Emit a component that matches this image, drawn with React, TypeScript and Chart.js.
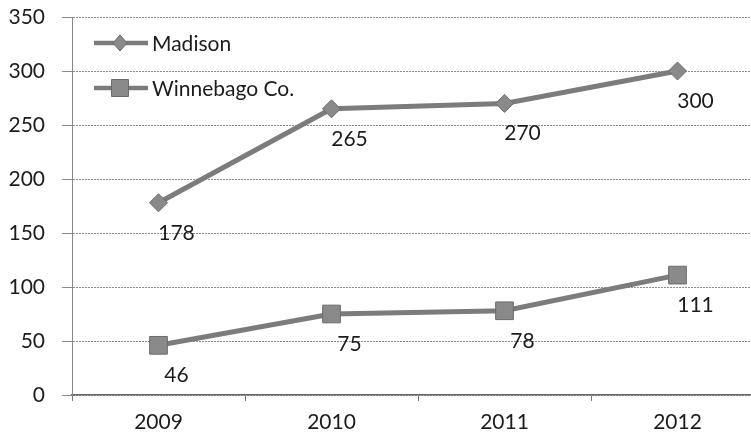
import React, { useEffect, useRef } from "react";
import { Chart, registerables } from "chart.js";

Chart.register(...registerables);

const categories = ["2009", "2010", "2011", "2012"];
const madison = [178, 265, 270, 300];
const winnebago = [46, 75, 78, 111];
const seriesNames = ["Madison", "Winnebago Co."];
const yTicks = { min: 0, max: 350, step: 50 };

const FONT = "Lato, 'Open Sans', sans-serif";
const TEXT = "#1c1c1c";
const LINE = "#7c7c7c";
const MARK_FILL = "#8a8a8a";
const MARK_BORDER = "#6a6a6a";

const labelPlugin = {
  id: "valueLabels",
  afterDatasetsDraw(chart: any) {
    const ctx = chart.ctx;
    ctx.save();
    ctx.font = `21px ${FONT}`;
    ctx.fillStyle = TEXT;
    ctx.textAlign = "center";
    ctx.textBaseline = "middle";
    chart.data.datasets.forEach((ds: any, di: number) => {
      const meta = chart.getDatasetMeta(di);
      meta.data.forEach((pt: any, i: number) => {
        ctx.fillText(String(ds.data[i]), pt.x + 18, pt.y + 30);
      });
    });
    ctx.restore();
  },
};

const legendPlugin = {
  id: "insideLegend",
  afterDraw(chart: any) {
    const ctx = chart.ctx;
    const { left, top } = chart.chartArea;
    ctx.save();
    chart.data.datasets.forEach((ds: any, di: number) => {
      const y = top + 26 + di * 45;
      const x0 = left + 22;
      const x1 = left + 76;
      const cx = left + 48;
      ctx.strokeStyle = LINE;
      ctx.lineWidth = 4.5;
      ctx.beginPath();
      ctx.moveTo(x0, y);
      ctx.lineTo(x1, y);
      ctx.stroke();
      ctx.fillStyle = MARK_FILL;
      ctx.strokeStyle = MARK_BORDER;
      ctx.lineWidth = 1;
      ctx.beginPath();
      if (ds.pointStyle === "rectRot") {
        ctx.moveTo(cx, y - 8);
        ctx.lineTo(cx + 7, y);
        ctx.lineTo(cx, y + 8);
        ctx.lineTo(cx - 7, y);
        ctx.closePath();
      } else {
        ctx.rect(cx - 8.5, y - 8.5, 17, 17);
      }
      ctx.fill();
      ctx.stroke();
      ctx.font = `21px ${FONT}`;
      ctx.fillStyle = TEXT;
      ctx.textAlign = "left";
      ctx.textBaseline = "middle";
      ctx.fillText(ds.label, x1 + 4, y + 1);
    });
    ctx.restore();
  },
};

export default function App() {
  const ref = useRef<HTMLCanvasElement | null>(null);
  useEffect(() => {
    if (!ref.current) return;
    const chart = new Chart(ref.current, {
      type: "line",
      data: {
        labels: categories,
        datasets: [
          {
            label: seriesNames[0],
            data: madison,
            borderColor: LINE,
            borderWidth: 5,
            pointStyle: "rectRot",
            pointRadius: 9,
            pointBackgroundColor: MARK_FILL,
            pointBorderColor: MARK_BORDER,
            pointBorderWidth: 1,
            tension: 0,
          },
          {
            label: seriesNames[1],
            data: winnebago,
            borderColor: LINE,
            borderWidth: 5,
            pointStyle: "rect",
            pointRadius: 12.5,
            pointBackgroundColor: MARK_FILL,
            pointBorderColor: MARK_BORDER,
            pointBorderWidth: 1,
            tension: 0,
          },
        ],
      },
      options: {
        responsive: false,
        animation: false,
        layout: { padding: { top: 17, right: 16, left: 0, bottom: 0 } },
        plugins: { legend: { display: false }, tooltip: { enabled: false } },
        scales: {
          x: {
            type: "category",
            offset: true,
            grid: {
              offset: true,
              drawOnChartArea: false,
              drawTicks: true,
              tickLength: 6,
              color: "#777",
            },
            border: { display: true, color: "#666", width: 1.5 },
            ticks: { padding: 9, color: TEXT, font: { family: FONT, size: 21 } },
            afterFit: (s: any) => {
              s.height = 40;
            },
          },
          y: {
            min: yTicks.min,
            max: yTicks.max,
            ticks: {
              stepSize: yTicks.step,
              padding: 17,
              color: TEXT,
              font: { family: FONT, size: 21 },
            },
            grid: { color: "#8a8a8a", tickLength: 10, lineWidth: 1 },
            border: { display: true, color: "#888", width: 1, dash: [2, 1] },
            afterFit: (s: any) => {
              s.width = 72;
              s.paddingTop = 0;
              s.paddingBottom = 0;
            },
          },
        },
      },
      plugins: [labelPlugin, legendPlugin],
    });
    return () => chart.destroy();
  }, []);
  return (
    <div
      style={{
        position: "fixed",
        left: 0,
        top: 0,
        width: 751,
        height: 435,
        overflow: "hidden",
        background: "#fff",
      }}
    >
      <canvas ref={ref} width={780} height={435} style={{ width: 780, height: 435 }} />
    </div>
  );
}
